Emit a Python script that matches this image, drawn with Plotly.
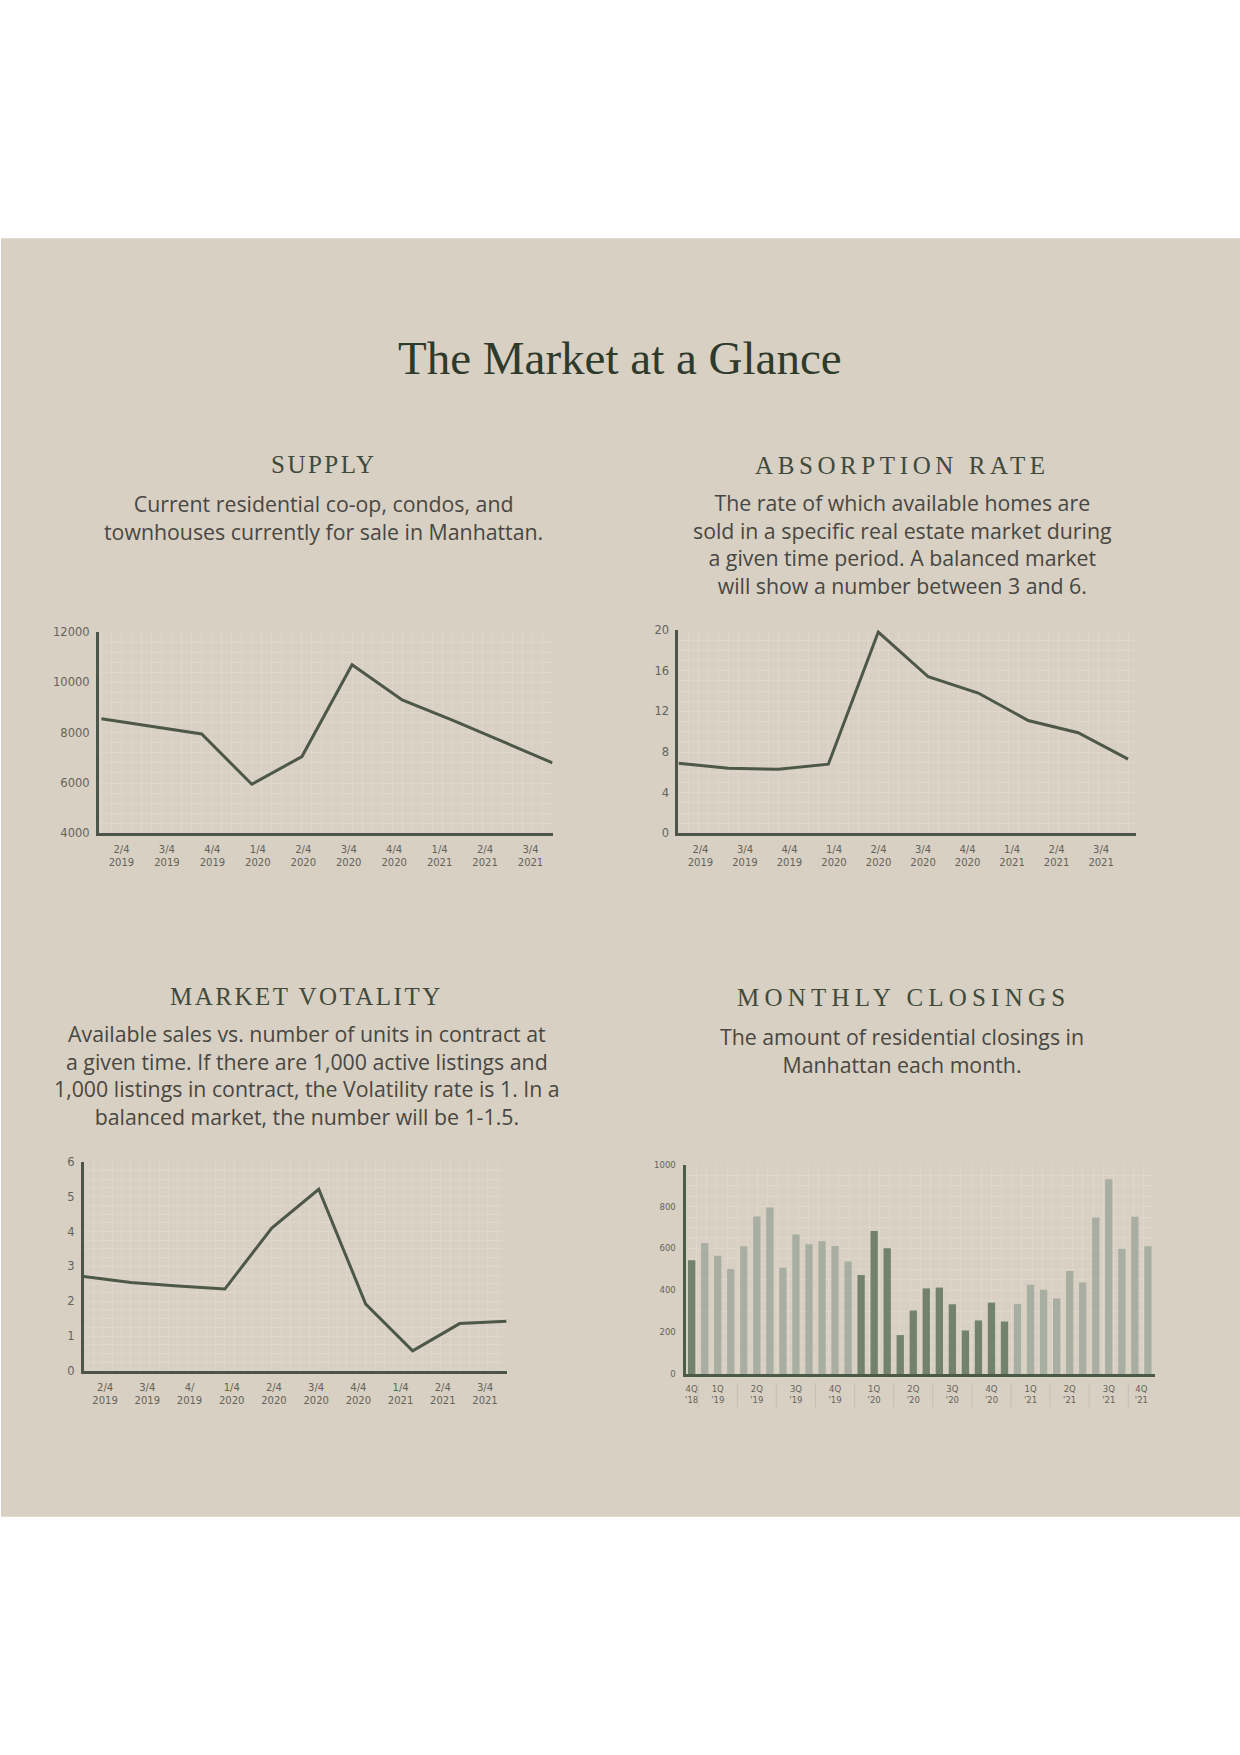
import numpy as np
import pandas as pd
import plotly.graph_objects as go

W, H = 1240, 1755

# ---------------- data ----------------
period_labels = ["2/4<br>2019", "3/4<br>2019", "4/4<br>2019", "1/4<br>2020", "2/4<br>2020",
                 "3/4<br>2020", "4/4<br>2020", "1/4<br>2021", "2/4<br>2021", "3/4<br>2021"]
volatility_labels = ["2/4<br>2019", "3/4<br>2019", "4/<br>2019", "1/4<br>2020", "2/4<br>2020",
                     "3/4<br>2020", "4/4<br>2020", "1/4<br>2021", "2/4<br>2021", "3/4<br>2021"]

supply = [8550, 8250, 7950, 5950, 7050, 10700, 9300, 8500, 7650, 6800]
absorption = [6.9, 6.4, 6.3, 6.8, 19.8, 15.4, 13.8, 11.1, 9.9, 7.3]
volatility = [2.71, 2.54, 2.44, 2.35, 4.1, 5.21, 1.92, 0.58, 1.36, 1.43]

closing_months = pd.date_range("2018-12-01", periods=36, freq="MS")
closings = [543, 626, 565, 502, 610, 752, 795, 508, 667, 620, 634, 612,
            538, 473, 683, 601, 186, 303, 409, 413, 333, 208, 256, 341,
            251, 334, 427, 402, 361, 492, 437, 748, 931, 598, 751, 610]

supply_yticks = [4000, 6000, 8000, 10000, 12000]
absorption_yticks = [0, 4, 8, 12, 16, 20]
volatility_yticks = [0, 1, 2, 3, 4, 5, 6]
closings_yticks = [0, 200, 400, 600, 800, 1000]

# ---------------- styles ----------------
PAGE = "#ffffff"
BEIGE = "#d8d0c2"
GRID = "#e0d7cc"
AXIS = "#4c5548"
LINE = "#4d5849"
TICK = "#64635c"
TITLE_C = "#2e3a2b"
HEAD_C = "#3f4a3c"
DESC_C = "#484743"
DARK_BAR = "#72826d"
LIGHT_BAR = "#a9aea2"

DY = 4  # vertical offset of the lower row


def px_x(x):
    return x / W


def px_y(y):
    return 1 - y / H


fig = go.Figure()

# line charts
n = len(supply)
idx = list(range(n))
fig.add_trace(go.Scatter(x=idx, y=supply, mode="lines", line=dict(color=LINE, width=3),
                         xaxis="x", yaxis="y", hoverinfo="skip"))
fig.add_trace(go.Scatter(x=idx, y=absorption, mode="lines", line=dict(color=LINE, width=3),
                         xaxis="x2", yaxis="y2", hoverinfo="skip"))
fig.add_trace(go.Scatter(x=idx, y=volatility, mode="lines", line=dict(color=LINE, width=3),
                         xaxis="x3", yaxis="y3", hoverinfo="skip"))

# bar chart
years = closing_months.year
bar_colors = [DARK_BAR if y % 2 == 0 else LIGHT_BAR for y in years]
bidx = list(range(len(closings)))
fig.add_trace(go.Bar(x=bidx, y=closings, marker=dict(color=bar_colors, line=dict(width=0)),
                     width=0.56, xaxis="x4", yaxis="y4", hoverinfo="skip"))

# quarter groups for the bar chart axis
qkeys = [(m.year, (m.month - 1) // 3 + 1) for m in closing_months]
groups = []
for i, k in enumerate(qkeys):
    if not groups or groups[-1][0] != k:
        groups.append([k, [i]])
    else:
        groups[-1][1].append(i)
q_tickvals = [float(np.mean(g[1])) for g in groups]
q_ticktext = [f"{k[1]}Q<br>'{k[0] % 100:02d}" for k, _ in groups]
separators = [g[1][-1] + 0.5 for g in groups[:-1]]


def line_xaxis(dom, rng, lab, a, b, anchor):
    return dict(domain=[px_x(dom[0]), px_x(dom[1])], range=rng, anchor=anchor,
                tickmode="array", tickvals=list(np.linspace(a, b, len(lab))), ticktext=lab,
                showline=True, linecolor=AXIS, linewidth=3, showgrid=False, zeroline=False,
                ticks="", ticklabelstandoff=5,
                tickfont=dict(family="DejaVu Sans", size=10, color=TICK),
                minor=dict(tickmode="linear", tick0=0, dtick=0.2, showgrid=True,
                           gridcolor=GRID, gridwidth=1, ticks=""),
                fixedrange=True)


def yaxis_cfg(dom, rng, tv, minor_dt, anchor, size):
    return dict(domain=[px_y(dom[1]), px_y(dom[0])], range=rng, anchor=anchor,
                tickmode="array", tickvals=tv, ticktext=[str(v) for v in tv],
                showline=True, linecolor=AXIS, linewidth=3, showgrid=True, gridcolor=GRID,
                gridwidth=1, zeroline=False, ticks="", ticklabelstandoff=4,
                tickfont=dict(family="DejaVu Sans", size=size, color=TICK),
                minor=dict(tickmode="linear", tick0=rng[0], dtick=minor_dt, showgrid=True,
                           gridcolor=GRID, gridwidth=1, ticks=""),
                fixedrange=True)


fig.update_layout(
    xaxis=line_xaxis((98, 552), [-0.05, 9], period_labels, 0.40, 8.56, "y"),
    yaxis=yaxis_cfg((630, 833), [4000, 12000], supply_yticks, 400, "x", 11.5),
    xaxis2=line_xaxis((678, 1136), [0, 9.16], period_labels, 0.44, 8.46, "y2"),
    yaxis2=yaxis_cfg((628, 833), [0, 20], absorption_yticks, 1, "x2", 11.5),
    xaxis3=line_xaxis((83, 506), [0, 9], volatility_labels, 0.45, 8.54, "y3"),
    yaxis3=yaxis_cfg((1160 + DY, 1371 + DY), [0, 6], volatility_yticks, 0.25, "x3", 11.5),
    xaxis4=dict(domain=[px_x(686), px_x(1155)], range=[-0.4, 35.55], anchor="y4",
                tickmode="array", tickvals=q_tickvals, ticktext=q_ticktext,
                showline=True, linecolor="#4b5a46", linewidth=3, showgrid=False, zeroline=False,
                ticks="", ticklabelstandoff=5,
                tickfont=dict(family="DejaVu Sans", size=8.5, color=TICK),
                minor=dict(tickmode="linear", tick0=-0.4, dtick=0.78, showgrid=True,
                           gridcolor=GRID, gridwidth=1, ticks=""),
                fixedrange=True),
    yaxis4=dict(domain=[px_y(1374 + DY), px_y(1163 + DY)], range=[0, 1000], anchor="x4",
                tickmode="array", tickvals=closings_yticks,
                ticktext=[str(v) for v in closings_yticks],
                showline=True, linecolor="#4b5e46", linewidth=3, showgrid=True, gridcolor=GRID,
                zeroline=False, ticks="", ticklabelstandoff=6,
                tickfont=dict(family="DejaVu Sans", size=8.5, color=TICK),
                minor=dict(tickmode="linear", tick0=0, dtick=50, showgrid=True,
                           gridcolor=GRID, gridwidth=1, ticks=""),
                fixedrange=True),
    width=W, height=H, margin=dict(l=0, r=0, t=0, b=0),
    paper_bgcolor=PAGE, plot_bgcolor="rgba(0,0,0,0)", showlegend=False, bargap=0.44,
)

shapes = [
    dict(type="rect", xref="paper", yref="paper", x0=0, x1=1, y0=px_y(1522), y1=px_y(233),
         fillcolor=BEIGE, line=dict(width=0), layer="below"),
]
for s in separators:
    shapes.append(dict(type="line", xref="x4", yref="paper", x0=s, x1=s,
                       y0=px_y(1408 + DY), y1=px_y(1383 + DY),
                       line=dict(color="#c6bfb3", width=1)))
fig.update_layout(shapes=shapes)

ann = []


def add_text(x, y, s, size, color, family):
    ann.append(dict(x=px_x(x), y=px_y(y), xref="paper", yref="paper", text=s, showarrow=False,
                    xanchor="center", yanchor="middle", align="center",
                    font=dict(family=family, size=size, color=color)))


add_text(619, 354, "The Market at a Glance", 47, TITLE_C, "Liberation Serif")

headings = [
    (323.7, 461, "SUPPLY", 2.5),
    (902, 462.3, "ABSORPTION RATE", 4.6),
    (305.8, 992.6 + DY + 1, "MARKET VOTALITY", 2.5),
    (902.8, 993.3 + DY + 1, "MONTHLY CLOSINGS", 5.2),
]
for x, y, s, ls in headings:
    add_text(x, y, f'<span style="letter-spacing:{ls}px">{s}</span>', 25, HEAD_C,
             "Liberation Serif")

descriptions = [
    (323, 501.6, ["Current residential co-op, condos, and",
                  "townhouses currently for sale in Manhattan."]),
    (902, 503.2, ["The rate of which available homes are",
                  "sold in a specific real estate market during",
                  "a given time period. A balanced market",
                  "will show a number between 3 and 6."]),
    (306, 1033.9 + DY, ["Available sales vs. number of units in contract at",
                        "a given time. If there are 1,000 active listings and",
                        "1,000 listings in contract, the Volatility rate is 1. In a",
                        "balanced market, the number will be 1-1.5."]),
    (902, 1034.9 + DY, ["The amount of residential closings in",
                        "Manhattan each month."]),
]
for x, y0, lines in descriptions:
    yc = y0 + (len(lines) - 1) * 25.7 / 2
    add_text(x, yc, "<br>".join(lines), 21.3, DESC_C, "Open Sans")

fig.update_layout(annotations=ann)

fig.write_html("out.html", config={"displayModeBar": False},
               post_script="document.body.style.margin='0px';")
